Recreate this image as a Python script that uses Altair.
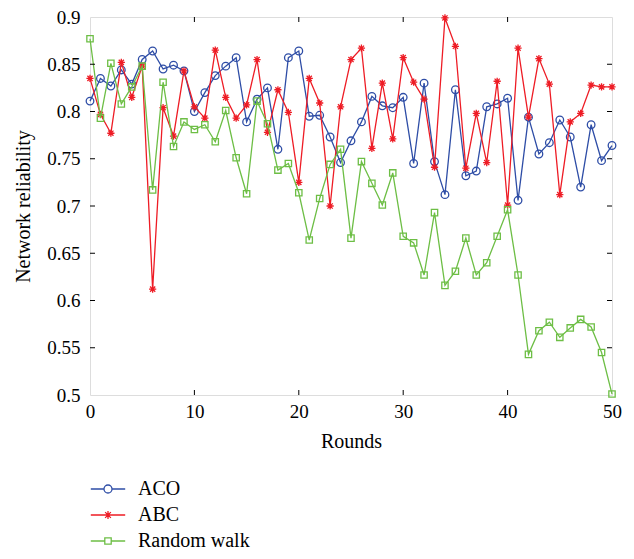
import altair as alt
import pandas as pd

rounds = list(range(51))

aco = [0.811, 0.835, 0.827, 0.844, 0.829, 0.855, 0.864, 0.845, 0.849, 0.843,
       0.800, 0.820, 0.838, 0.848, 0.857, 0.789, 0.813, 0.825, 0.760, 0.857,
       0.864, 0.795, 0.796, 0.773, 0.746, 0.769, 0.789, 0.816, 0.806, 0.804,
       0.815, 0.745, 0.830, 0.747, 0.712, 0.823, 0.732, 0.737, 0.805, 0.808,
       0.814, 0.706, 0.794, 0.755, 0.767, 0.791, 0.773, 0.720, 0.786, 0.748,
       0.764]

abc = [0.835, 0.797, 0.777, 0.852, 0.815, 0.848, 0.612, 0.804, 0.774, 0.843,
       0.805, 0.793, 0.865, 0.815, 0.793, 0.807, 0.855, 0.778, 0.823, 0.799,
       0.725, 0.835, 0.809, 0.700, 0.805, 0.855, 0.867, 0.761, 0.830, 0.771,
       0.857, 0.831, 0.813, 0.741, 0.899, 0.869, 0.740, 0.798, 0.746, 0.832,
       0.701, 0.867, 0.794, 0.856, 0.829, 0.712, 0.789, 0.798, 0.828, 0.826,
       0.826]

rw = [0.877, 0.793, 0.851, 0.808, 0.826, 0.848, 0.717, 0.831, 0.763, 0.789,
      0.781, 0.786, 0.768, 0.801, 0.751, 0.713, 0.811, 0.787, 0.738, 0.745,
      0.714, 0.664, 0.708, 0.744, 0.760, 0.666, 0.747, 0.724, 0.701, 0.735,
      0.668, 0.661, 0.627, 0.693, 0.616, 0.631, 0.666, 0.627, 0.640, 0.668,
      0.696, 0.627, 0.543, 0.568, 0.577, 0.561, 0.571, 0.580, 0.572, 0.545,
      0.501]

series_names = ["ACO", "ABC", "Random walk"]
series_colors = ["#2E4DA6", "#EE1C25", "#6DBE45"]
x_ticks = [0, 10, 20, 30, 40, 50]
y_ticks = [0.5, 0.55, 0.6, 0.65, 0.7, 0.75, 0.8, 0.85, 0.9]

FONT = "Liberation Serif"
W, H = 522, 378

frames = []
for name, vals in zip(series_names, [aco, abc, rw]):
    frames.append(pd.DataFrame({"round": rounds, "value": vals, "series": name}))
df = pd.concat(frames, ignore_index=True)

xscale = alt.Scale(domain=[0, 50], nice=False, zero=False)
yscale = alt.Scale(domain=[0.5, 0.9], nice=False, zero=False)
xaxis = alt.Axis(values=x_ticks, title="Rounds", grid=False, domain=False,
                 ticks=False, tickSize=0, labelFont=FONT, labelFontSize=19,
                 labelColor="black", labelPadding=7, titleFont=FONT,
                 titleFontSize=20, titleFontWeight="normal", titleColor="black",
                 titlePadding=10, labelFlush=False)
yaxis = alt.Axis(values=y_ticks, title="Network reliability", grid=False,
                 domain=False, ticks=False, tickSize=0, format=".2~f",
                 labelFont=FONT, labelFontSize=19, labelColor="black",
                 labelPadding=10, titleFont=FONT, titleFontSize=20,
                 titleFontWeight="normal", titleColor="black", titlePadding=13,
                 labelFlush=False)


def X(field):
    return alt.X(field, type="quantitative", scale=xscale, axis=xaxis)


def Y(field):
    return alt.Y(field, type="quantitative", scale=yscale, axis=yaxis)


marker_shapes = {
    "ACO": "circle",
    "ABC": "M0,-1V1M-1,0H1M-0.72,-0.72L0.72,0.72M-0.72,0.72L0.72,-0.72",
    "Random walk": "square",
}
marker_sizes = {"ACO": 58, "ABC": 52, "Random walk": 40}

layers = []
for name, col in zip(series_names, series_colors):
    base = alt.Chart(df).transform_filter(alt.datum.series == name)
    layers.append(base.mark_line(color=col, strokeWidth=1.3).encode(
        x=X("round"), y=Y("value")))
    layers.append(base.mark_point(color=col, filled=False, strokeWidth=1.3,
                                  shape=marker_shapes[name],
                                  size=marker_sizes[name], opacity=1).encode(
        x=X("round"), y=Y("value")))

# legend layer (invisible points, legend symbols drawn with line + marker)
legend_paths = [
    "M-4.3,0H-1M1,0H4.3M1,0A1,1 0 1,1 -1,0A1,1 0 1,1 1,0",
    "M-4.3,0H4.3M0,-1V1M-0.72,-0.72L0.72,0.72M-0.72,0.72L0.72,-0.72",
    "M-4.3,0H-0.8M0.8,0H4.3M-0.8,-0.8H0.8V0.8H-0.8Z",
]
legend_def = alt.Legend(title=None, orient="none", legendX=8, legendY=462,
                        symbolSize=64, symbolOpacity=1, symbolStrokeWidth=1.3,
                        labelFont=FONT, labelFontSize=20, labelColor="black",
                        labelOffset=20, rowPadding=6, padding=0)
legend_layer = alt.Chart(df).mark_point(filled=False, opacity=0).encode(
    x=X("round"), y=Y("value"),
    color=alt.Color("series:N", scale=alt.Scale(domain=series_names,
                                                range=series_colors),
                    legend=legend_def),
    shape=alt.Shape("series:N", scale=alt.Scale(domain=series_names,
                                                range=legend_paths),
                    legend=legend_def),
)
layers.append(legend_layer)

# inward tick marks
xt = pd.DataFrame({"t": x_ticks[1:-1]})
yt = pd.DataFrame({"v": y_ticks[1:-1]})
tick_len = 5
layers.append(alt.Chart(xt).mark_rule(color="black", strokeWidth=1).encode(
    x=X("t"), y=alt.value(H), y2=alt.value(H - tick_len)))
layers.append(alt.Chart(xt).mark_rule(color="black", strokeWidth=1).encode(
    x=X("t"), y=alt.value(0), y2=alt.value(tick_len)))
layers.append(alt.Chart(yt).mark_rule(color="black", strokeWidth=1).encode(
    y=Y("v"), x=alt.value(0), x2=alt.value(tick_len)))
layers.append(alt.Chart(yt).mark_rule(color="black", strokeWidth=1).encode(
    y=Y("v"), x=alt.value(W), x2=alt.value(W - tick_len)))

chart = alt.layer(*layers).properties(
    width=W, height=H,
    autosize=alt.AutoSizeParams(type="none"),
    padding={"left": 82, "top": 9, "right": 14, "bottom": 156},
).configure_view(stroke="black", strokeWidth=1.5).configure(background="white")

chart.save("out.html", embed_options={"renderer": "svg", "actions": False})
